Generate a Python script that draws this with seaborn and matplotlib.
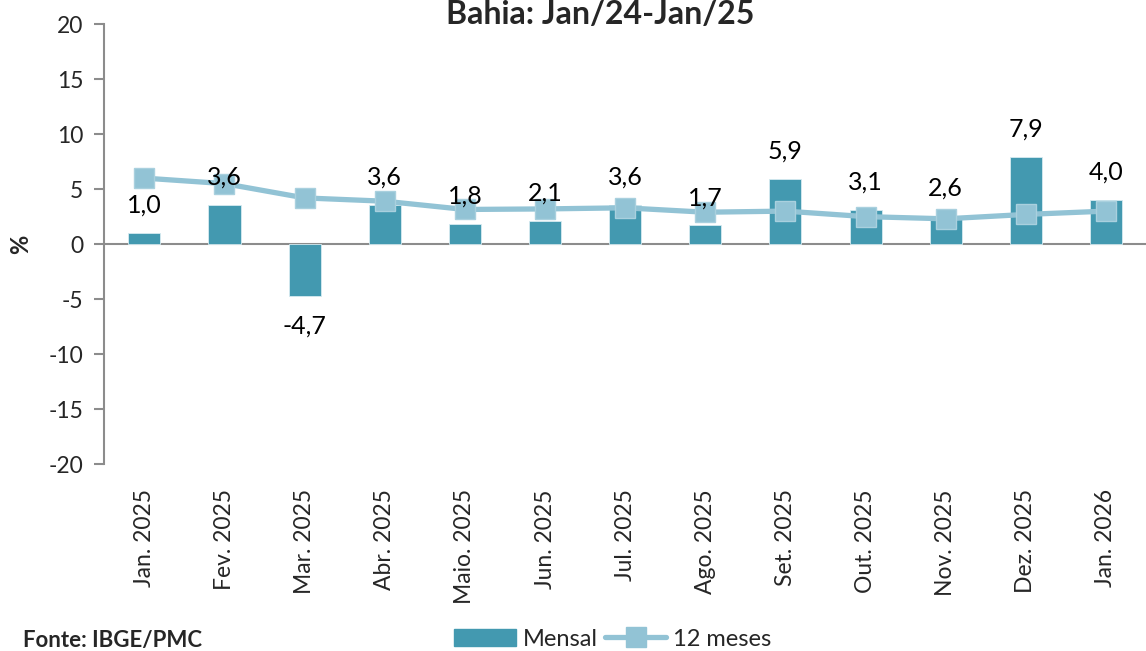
#!/usr/bin/env python3
import pandas as pd
import seaborn as sns
import matplotlib.pyplot as plt
from matplotlib.patches import Patch
from matplotlib.lines import Line2D

months = ['Jan. 2025', 'Fev. 2025', 'Mar. 2025', 'Abr. 2025', 'Maio. 2025',
          'Jun. 2025', 'Jul. 2025', 'Ago. 2025', 'Set. 2025', 'Out. 2025',
          'Nov. 2025', 'Dez. 2025', 'Jan. 2026']
mensal = [1.0, 3.6, -4.7, 3.6, 1.8, 2.1, 3.6, 1.7, 5.9, 3.1, 2.6, 7.9, 4.0]
doze_meses = [6.0, 5.5, 4.2, 3.9, 3.15, 3.2, 3.3, 2.9, 3.0, 2.5, 2.3, 2.7, 3.0]

BAR = '#4399b0'
LINE = '#92c3d5'
GRAY = '#8c8c8c'

sns.set_theme(style='white')
plt.rcParams['font.family'] = ['Lato', 'DejaVu Sans']
plt.rcParams['axes.unicode_minus'] = False


def main():
    df = pd.DataFrame({'mes': months, 'mensal': mensal, 'doze': doze_meses})

    fig = plt.figure(figsize=(11.46, 6.51), dpi=100)
    ax = fig.add_axes([0.091, 0.287, 0.909, 0.676])

    sns.barplot(data=df, x='mes', y='mensal', color=BAR, width=0.4,
                saturation=1, edgecolor='#d6ebf1', linewidth=0.6, ax=ax, zorder=2)
    sns.lineplot(data=df, x='mes', y='doze', sort=False, color=LINE, lw=3.8,
                 marker='s', markersize=14, markeredgecolor='#a9d0de',
                 markeredgewidth=1, ax=ax, zorder=3)

    # rotulos das barras
    for i, v in enumerate(mensal):
        off = 20 if v >= 0 else -22
        ax.annotate(f'{v:.1f}'.replace('.', ','), (i, v), xytext=(0, off),
                    textcoords='offset points', ha='center', va='center',
                    fontsize=18, color='black', zorder=4)

    ax.set_ylim(-20, 20)
    ax.set_yticks(range(-20, 21, 5))
    ax.set_xlim(-0.5, len(months) - 0.5)
    ax.axhline(0, color=GRAY, lw=1.5, zorder=1)

    for s in ['top', 'right', 'bottom']:
        ax.spines[s].set_visible(False)
    ax.spines['left'].set_color(GRAY)
    ax.spines['left'].set_linewidth(1.5)

    ax.tick_params(axis='y', direction='out', length=7, width=1.5, color=GRAY,
                   labelsize=16.5, pad=8, left=True)
    ax.tick_params(axis='x', length=0, labelsize=16.5, pad=18, rotation=90)
    ax.set_xlabel('')
    ax.set_ylabel('%', fontsize=17, fontweight='bold', labelpad=12)

    fig.text(0.524, 1 - 14 / 651, 'Bahia: Jan/24-Jan/25', ha='center',
             va='center', fontsize=23, fontweight='bold')
    fig.text(0.02, 1 - 640 / 651, 'Fonte: IBGE/PMC', ha='left',
             va='center', fontsize=16, fontweight='bold')

    handles = [Patch(facecolor=BAR, edgecolor=BAR),
               Line2D([], [], color=LINE, lw=3.8, marker='s', markersize=14)]
    fig.legend(handles, ['Mensal', '12 meses'], loc='center',
               bbox_to_anchor=(0.535, 1 - 639 / 651), ncol=2, frameon=False,
               fontsize=17, handlelength=2.6, columnspacing=0.3,
               handletextpad=0.3)

    fig.savefig('out.png', dpi=100)


if __name__ == '__main__':
    main()
